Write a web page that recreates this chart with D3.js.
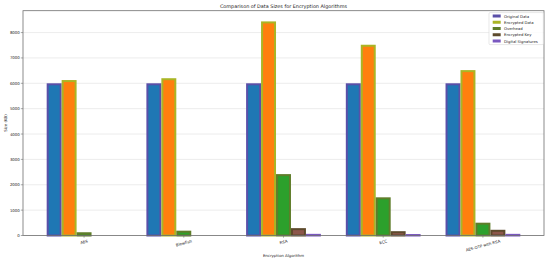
<!DOCTYPE html>
<html><head><meta charset="utf-8">
<script src="https://cdn.jsdelivr.net/npm/d3@7"></script>
<style>body{margin:0;background:#fff}svg{display:block;font-family:"DejaVu Sans",sans-serif}</style>
</head><body><svg id="c" width="550" height="260"></svg>
<script>
const categories = ["AES", "Blowfish", "RSA", "ECC", "AES-OTP with RSA"];
const seriesNames = ["Original Data", "Encrypted Data", "Overhead", "Encrypted Key", "Digital Signatures"];
const originalData = [6000, 6000, 6000, 6000, 6000];
const encryptedData = [6128, 6200, 8440, 7520, 6520];
const overhead = [128, 190, 2420, 1505, 505];
const encryptedKey = [0, 0, 290, 170, 225];
const digitalSignatures = [0, 0, 65, 58, 65];
const yTicks = [0, 1000, 2000, 3000, 4000, 5000, 6000, 7000, 8000];
const fillColors = ["#1f77b4", "#ff7f0e", "#2ca02c", "#8c564b", "#9467bd"];
const edgeColors = ["#5a4fa8", "#aab525", "#5f7d2a", "#5d4a2c", "#7a58c0"];

const series = [originalData, encryptedData, overhead, encryptedKey, digitalSignatures];
const svg = d3.select("#c");
const L = 23, R = 544, T = 10.7, B = 235.5;
const bw = 0.15;
const sw = 2;
const maxV = d3.max(series.flat());
const x = d3.scaleLinear().domain([-bw/2 - 0.05*(4+4*bw+bw), 4 + 4*bw + bw/2 + 0.05*(4+4*bw+bw)]).range([L, R]);
const y = d3.scaleLinear().domain([0, maxV*1.05]).range([B, T]);

// grid
svg.append("g").selectAll("line").data(yTicks).join("line")
  .attr("x1", L).attr("x2", R).attr("y1", d=>y(d)).attr("y2", d=>y(d))
  .attr("stroke", "#e4e4e4").attr("stroke-width", 0.7);

// bars
series.forEach((vals, k) => {
  svg.append("g").selectAll("rect").data(vals).join("rect")
    .attr("x", (d,i)=>x(i + k*bw - bw/2) + sw/2)
    .attr("width", x(bw) - x(0) - sw)
    .attr("y", d=>y(d) + sw/2)
    .attr("height", d=>Math.max(0, y(0) - y(d) - sw/2))
    .attr("fill", fillColors[k])
    .attr("stroke", edgeColors[k]).attr("stroke-width", d=> d>0 ? sw : 0);
});

// frame
svg.append("rect").attr("x", L).attr("y", T).attr("width", R-L).attr("height", B-T)
  .attr("fill", "none").attr("stroke", "#6f6f6f").attr("stroke-width", 0.8);

// y axis ticks
const yg = svg.append("g");
yTicks.forEach(t => {
  yg.append("line").attr("x1", L-2.2).attr("x2", L).attr("y1", y(t)).attr("y2", y(t)).attr("stroke", "#6f6f6f").attr("stroke-width", 0.6);
  yg.append("text").attr("x", L-3.2).attr("y", y(t)).attr("text-anchor", "end").attr("dominant-baseline", "central")
    .attr("font-size", 3.9).attr("fill", "#222").text(t);
});

// x ticks
const rot = 15, rad = rot*Math.PI/180;
categories.forEach((c, i) => {
  const tx = x(i + 2*bw);
  svg.append("line").attr("x1", tx).attr("x2", tx).attr("y1", B).attr("y2", B+2.2).attr("stroke", "#6f6f6f").attr("stroke-width", 0.6);
  const t = svg.append("text").attr("font-size", 3.9).attr("fill", "#222").attr("text-anchor", "middle")
    .attr("dominant-baseline", "central").text(c);
  const w = t.node().getComputedTextLength(), h = 3.9*1.15;
  const bh = w*Math.sin(rad) + h*Math.cos(rad);
  const cy = B + 3.2 + bh/2;
  t.attr("transform", `translate(${tx},${cy}) rotate(${-rot})`);
});

// labels
svg.append("text").attr("x", (L+R)/2).attr("y", 7.9).attr("text-anchor", "middle").attr("font-size", 4.9).attr("fill", "#222")
  .text("Comparison of Data Sizes for Encryption Algorithms");
svg.append("text").attr("x", (L+R)/2).attr("y", 255).attr("text-anchor", "middle").attr("dominant-baseline", "central")
  .attr("font-size", 3.9).attr("fill", "#222").text("Encryption Algorithm");
svg.append("text").attr("transform", `translate(5.8,${(T+B)/2}) rotate(-90)`).attr("text-anchor", "middle").attr("dominant-baseline", "central")
  .attr("font-size", 3.9).attr("fill", "#222").text("Size (KB)");

// legend
const lg = svg.append("g");
lg.append("rect").attr("x", 489).attr("y", 12.6).attr("width", 54.3).attr("height", 32).attr("rx", 1)
  .attr("fill", "#fff").attr("fill-opacity", 0.8).attr("stroke", "#d8d8d8").attr("stroke-width", 0.6);
seriesNames.forEach((n, k) => {
  const cy = 16 + k*6.25;
  lg.append("rect").attr("x", 492.7).attr("y", cy-1.5).attr("width", 8).attr("height", 3).attr("fill", edgeColors[k]);
  lg.append("text").attr("x", 504).attr("y", cy).attr("dominant-baseline", "central").attr("font-size", 3.8).attr("fill", "#222").text(n);
});
</script></body></html>
